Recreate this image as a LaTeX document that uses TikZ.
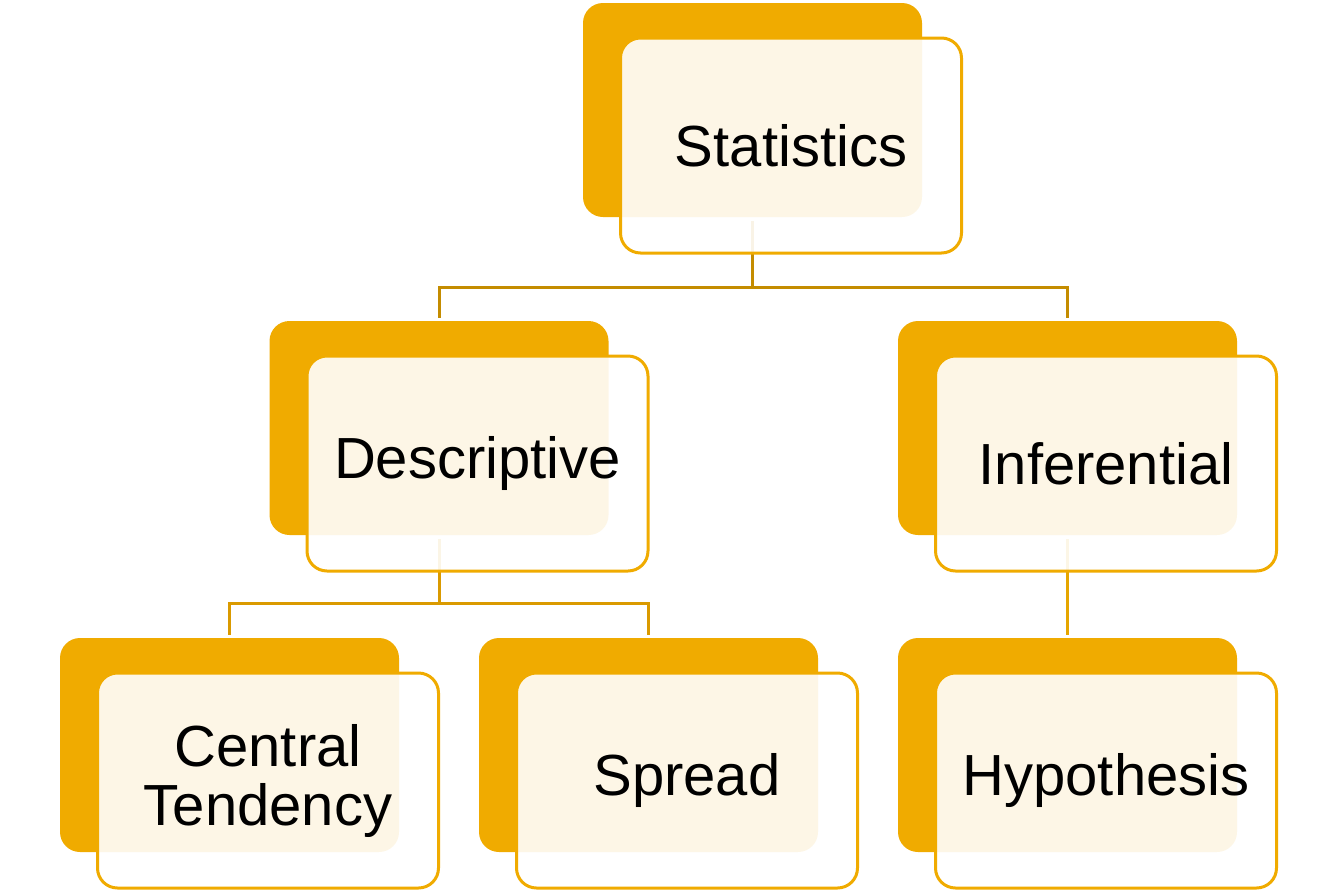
\documentclass[tikz,border=0pt]{standalone}
\usepackage{fontspec}
\setmainfont{Liberation Sans}
\definecolor{gold}{HTML}{F0AB00}
\definecolor{connA}{HTML}{C48C00}
\definecolor{connB}{HTML}{DA9A00}
\definecolor{connC}{HTML}{E6A600}
\begin{document}
\begin{tikzpicture}[x=1pt,y=-1pt,
  backbox/.style={rectangle, rounded corners=20pt, fill=gold, draw=none,
    minimum width=339pt, minimum height=214pt, inner sep=0pt, outer sep=0pt},
  frontbox/.style={rectangle, rounded corners=20pt, draw=gold, line width=3pt,
    fill=white, fill opacity=0.9, text opacity=1, text=black,
    minimum width=341pt, minimum height=215pt, inner sep=0pt, outer sep=0pt,
    align=center, font=\fontsize{58}{59}\selectfont},
  linkA/.style={draw=connA, line width=3pt},
  linkB/.style={draw=connB, line width=3pt},
  linkC/.style={draw=connC, line width=3pt}]
\useasboundingbox (0,0) rectangle (1334,892);
% back boxes
\node[backbox] (sb) at (752.5,110) {};
\node[backbox] (db) at (439,428) {};
\node[backbox] (ib) at (1067.5,428) {};
\node[backbox] (cb) at (229.5,745) {};
\node[backbox] (pb) at (648.5,745) {};
\node[backbox] (hb) at (1067.5,745) {};
% connectors
\draw[linkA] ([yshift=-4pt]sb.south) -- ++(0,66) coordinate (j1);
\draw[linkA] (j1) -| ([yshift=3pt]db.north);
\draw[linkA] (j1) -| ([yshift=3pt]ib.north);
\draw[linkB] ([yshift=-4pt]db.south) -- ++(0,64) coordinate (j2);
\draw[linkB] (j2) -| ([yshift=3pt]cb.north);
\draw[linkB] (j2) -| ([yshift=3pt]pb.north);
\draw[linkC] ([yshift=-4pt]ib.south) -- ([yshift=3pt]hb.north);
% front boxes
\node[frontbox] (s) at ([xshift=38.5pt,yshift=-35.5pt]sb.center) {Statistics};
\node[frontbox] (d) at ([xshift=38.5pt,yshift=-35.5pt]db.center) {Descriptive};
\node[frontbox] (i) at ([xshift=38.5pt,yshift=-35.5pt]ib.center) {Inferential};
\node[frontbox] (c) at ([xshift=38.5pt,yshift=-35.5pt]cb.center) {Central\\Tendency};
\node[frontbox] (p) at ([xshift=38.5pt,yshift=-35.5pt]pb.center) {Spread};
\node[frontbox] (h) at ([xshift=38.5pt,yshift=-35.5pt]hb.center) {Hypothesis};
\end{tikzpicture}
\end{document}
